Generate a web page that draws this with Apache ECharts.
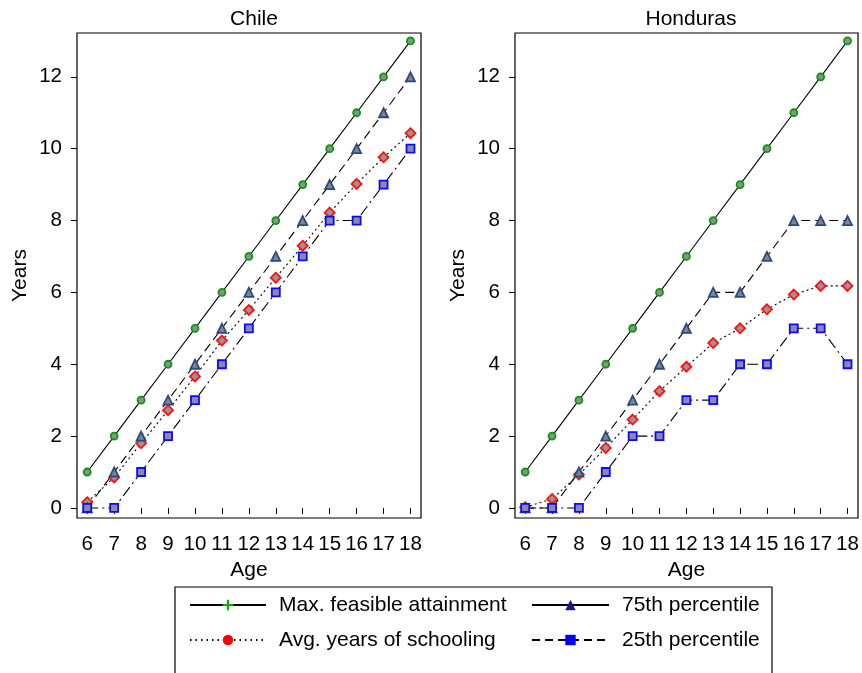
<!DOCTYPE html>
<html>
<head>
<meta charset="utf-8">
<script src="https://cdn.jsdelivr.net/npm/echarts@6/dist/echarts.min.js"></script>
<style>
  html, body { margin: 0; padding: 0; background: #fff; }
  #chart { width: 862px; height: 673px; }
</style>
</head>
<body>
<div id="chart"></div>
<script>
// ages on the x axis
var ages = [6, 7, 8, 9, 10, 11, 12, 13, 14, 15, 16, 17, 18];
var yTicks = [0, 2, 4, 6, 8, 10, 12];

// Chile
var chileMax = [1, 2, 3, 4, 5, 6, 7, 8, 9, 10, 11, 12, 13];
var chileP75 = [0, 1, 2, 3, 4, 5, 6, 7, 8, 9, 10, 11, 12];
var chileAvg = [0.16, 0.85, 1.8, 2.72, 3.66, 4.66, 5.51, 6.41, 7.3, 8.22, 9.02, 9.76, 10.43];
var chileP25 = [0, 0, 1, 2, 3, 4, 5, 6, 7, 8, 8, 9, 10];

// Honduras
var honMax = [1, 2, 3, 4, 5, 6, 7, 8, 9, 10, 11, 12, 13];
var honP75 = [0, 0, 1, 2, 3, 4, 5, 6, 6, 7, 8, 8, 8];
var honAvg = [0.02, 0.25, 0.93, 1.67, 2.46, 3.25, 3.93, 4.59, 5.0, 5.53, 5.94, 6.18, 6.18];
var honP25 = [0, 0, 0, 1, 2, 2, 3, 3, 4, 4, 5, 5, 4];

var FONT = 'Liberation Sans';

function pairs(vals) {
    return ages.map(function (a, i) { return [a, vals[i]]; });
}

// plot styles for the 4 lines (markers in panels)
var styles = {
    max: { symbol: 'circle', symbolSize: 7, fill: '#7f9a7f', border: '#129212', dash: 'solid' },
    p75: { symbol: 'triangle', symbolSize: 9, fill: '#7a869c', border: '#2d4a7c', dash: [9, 5] },
    avg: { symbol: 'diamond', symbolSize: 10, fill: '#a09090', border: '#ff1010', dash: [2, 3] },
    p25: { symbol: 'rect', symbolSize: 8, fill: '#8a8aa8', border: '#0a0aff', dash: [11, 4, 2, 4] }
};

function lineSeries(name, key, vals, idx) {
    var s = styles[key];
    return {
        name: name,
        type: 'line',
        xAxisIndex: idx,
        yAxisIndex: idx,
        data: pairs(vals),
        symbol: s.symbol,
        symbolSize: s.symbolSize,
        showAllSymbol: true,
        lineStyle: { color: '#000', width: 1.1, type: s.dash },
        itemStyle: { color: s.fill, borderColor: s.border, borderWidth: 1.8 },
        z: 3
    };
}

// legend-only series (empty data), so the legend icons differ from the plot markers
function legendSeries(name, symbol, color, dash) {
    return {
        name: name,
        type: 'line',
        xAxisIndex: 0,
        yAxisIndex: 0,
        data: [],
        symbol: symbol,
        symbolKeepAspect: true,
        lineStyle: { color: '#000', width: 1, type: dash },
        itemStyle: { color: color, borderWidth: 0 }
    };
}

function xAxis(idx) {
    return {
        type: 'value',
        gridIndex: idx,
        min: 5.62,
        max: 18.39,
        name: 'Age',
        nameLocation: 'middle',
        nameGap: 40,
        nameTextStyle: { fontFamily: FONT, fontSize: 21, color: '#000' },
        axisLine: { show: false },
        splitLine: { show: false },
        axisTick: { show: true, length: 6, lineStyle: { color: '#000', width: 1 }, customValues: ages },
        axisLabel: { margin: 16, fontFamily: FONT, fontSize: 20.5, color: '#000', customValues: ages }
    };
}

function yAxis(idx) {
    return {
        type: 'value',
        gridIndex: idx,
        min: -0.28,
        max: 13.22,
        name: 'Years',
        nameLocation: 'middle',
        nameGap: 46,
        nameTextStyle: { fontFamily: FONT, fontSize: 21, color: '#000' },
        axisLine: { show: false },
        splitLine: { show: false },
        axisTick: { show: true, length: 6, lineStyle: { color: '#000', width: 1 }, customValues: yTicks },
        axisLabel: { margin: 15, fontFamily: FONT, fontSize: 20.5, color: '#000', customValues: yTicks }
    };
}

var legendText = { fontFamily: FONT, fontSize: 21, color: '#000', lineHeight: 24, padding: [0, 0, 0, 8] };

var option = {
    animation: false,
    backgroundColor: '#fff',
    title: [
        { text: 'Chile', left: 249, top: 4, textAlign: 'center',
          textStyle: { fontFamily: FONT, fontSize: 21, fontWeight: 'normal', color: '#000' } },
        { text: 'Honduras', left: 686, top: 4, textAlign: 'center',
          textStyle: { fontFamily: FONT, fontSize: 21, fontWeight: 'normal', color: '#000' } }
    ],
    grid: [
        { left: 77, top: 33, width: 344, height: 485, show: true, borderColor: '#000', borderWidth: 1.2, backgroundColor: 'transparent' },
        { left: 515, top: 33, width: 343, height: 485, show: true, borderColor: '#000', borderWidth: 1.2, backgroundColor: 'transparent' }
    ],
    xAxis: [xAxis(0), xAxis(1)],
    yAxis: [yAxis(0), yAxis(1)],
    legend: [
        {
            left: 189, top: 593, orient: 'vertical', padding: 0,
            itemWidth: 76, itemHeight: 13, itemGap: 11,
            selectedMode: false,
            data: ['Max. feasible attainment', 'Avg. years of schooling'],
            textStyle: legendText
        },
        {
            left: 531, top: 593, orient: 'vertical', padding: 0,
            itemWidth: 77, itemHeight: 13, itemGap: 11,
            selectedMode: false,
            data: ['75th percentile', '25th percentile'],
            textStyle: legendText
        }
    ],
    graphic: [
        { type: 'rect', shape: { x: 175, y: 587, width: 597, height: 100 },
          style: { fill: 'none', stroke: '#000', lineWidth: 1.2 } }
    ],
    series: [
        lineSeries('Chile max', 'max', chileMax, 0),
        lineSeries('Chile avg', 'avg', chileAvg, 0),
        lineSeries('Chile p75', 'p75', chileP75, 0),
        lineSeries('Chile p25', 'p25', chileP25, 0),
        lineSeries('Honduras max', 'max', honMax, 1),
        lineSeries('Honduras avg', 'avg', honAvg, 1),
        lineSeries('Honduras p75', 'p75', honP75, 1),
        lineSeries('Honduras p25', 'p25', honP25, 1),
        legendSeries('Max. feasible attainment', 'path://M4,0H6V4H10V6H6V10H4V6H0V4H4Z', '#00b400', 'solid'),
        legendSeries('Avg. years of schooling', 'circle', '#ff0000', [1.5, 4]),
        legendSeries('75th percentile', 'triangle', '#1a1a8a', 'solid'),
        legendSeries('25th percentile', 'rect', '#0000ff', [8, 5])
    ]
};

var chart = echarts.init(document.getElementById('chart'));
chart.setOption(option);
</script>
</body>
</html>
